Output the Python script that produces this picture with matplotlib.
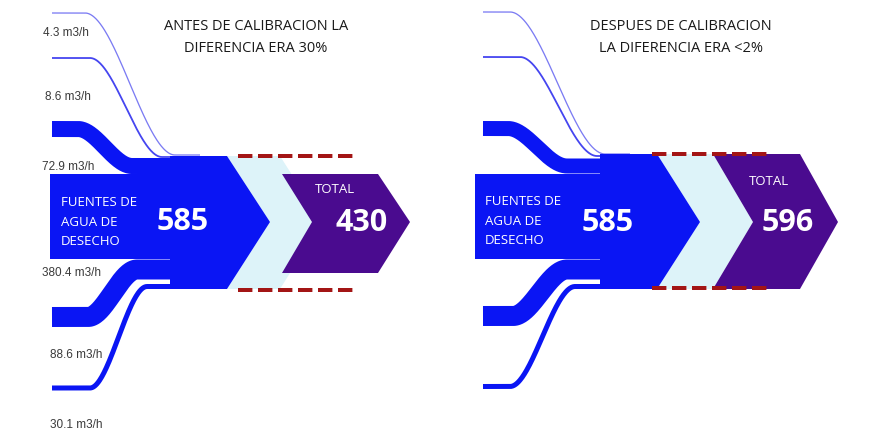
import matplotlib
matplotlib.use('Agg')
import matplotlib.pyplot as plt
import numpy as np
from matplotlib.patches import Polygon

# datos del diagrama
stream_values = [4.3, 8.6, 72.9, 380.4, 88.6, 30.1]
stream_labels = [f'{v} m3/h' for v in stream_values]
source_name = ['FUENTES DE', 'AGUA DE', 'DESECHO']
source_total = 585
measured_totals = [430, 596]
panel_titles = [['ANTES DE CALIBRACION LA', 'DIFERENCIA ERA 30%'],
                ['DESPUES DE CALIBRACION', 'LA DIFERENCIA ERA <2%']]

BLUE = '#0a15f4'
PURPLE = '#4a0b8f'
CYAN = '#ddf3f9'
RED = '#a31515'

W, H = 883, 439
fig = plt.figure(figsize=(W / 100, H / 100), dpi=100)
ax = fig.add_axes([0, 0, 1, 1])
ax.set_xlim(0, W)
ax.set_ylim(H, 0)
ax.axis('off')

PX = 72 / 100  # pixel -> points


def stream(x0, x1, y0, xa, xb, y1, width, color):
    # curva en S entre dos niveles
    xs = np.linspace(x0, x1, 200)
    t = np.clip((xs - xa) / (xb - xa), 0, 1)
    s = t * t * (3 - 2 * t)
    ys = y0 + (y1 - y0) * s
    ax.plot(xs, ys, color=color, lw=width * PX, solid_capstyle='butt', zorder=2)


# disposicion de cada panel
panels = [
    dict(x0=52, x1=200,
         streams=[(14, 85, 175, 156, 1.3, '#7b7bf3'),
                  (59, 90, 162, 158, 1.8, '#4545f0'),
                  (130, 78, 132, 167, 16, BLUE),
                  (318, 88, 137, 270.5, 20, BLUE),
                  (389, 90, 147, 287.5, 5, BLUE)],
         body=[(50, 175), (170, 175), (170, 157), (227, 157), (270, 223), (227, 290),
               (170, 290), (170, 260), (50, 260)],
         cyan=[(227, 157), (280, 157), (322, 223), (280, 290), (227, 290), (270, 223)],
         total=[(282, 175), (378, 175), (410, 223), (378, 274), (282, 274), (312, 223)],
         dash=(238, 357, 157, 291),
         title=(256, 26, 49),
         name=(61, [203, 223, 242]),
         num=(183, 222),
         total_lbl=(335, 190),
         total_num=(362, 223)),
    dict(x0=483, x1=630,
         streams=[(13, 510, 605, 155, 1.3, '#7b7bf3'),
                  (58, 520, 597, 157, 1.8, '#4545f0'),
                  (129.5, 508, 567, 167, 15, BLUE),
                  (317, 513, 567, 270.5, 20, BLUE),
                  (387.5, 510, 575, 287.5, 5, BLUE)],
         body=[(475, 175), (600, 175), (600, 155), (657, 155), (700, 223), (657, 290),
               (600, 290), (600, 260), (475, 260)],
         cyan=[(657, 155), (713, 155), (753, 223), (713, 290), (657, 290), (700, 223)],
         total=[(713, 155), (800, 155), (838, 223), (800, 290), (713, 290), (753, 223)],
         dash=(652, 770, 155, 289),
         title=(681, 26, 49),
         name=(485, [202, 222, 241]),
         num=(608, 223),
         total_lbl=(769, 182),
         total_num=(788, 223)),
]

for p, total, title in zip(panels, measured_totals, panel_titles):
    for y0, xa, xb, y1, w, c in p['streams']:
        stream(p['x0'], p['x1'], y0, xa, xb, y1, w, c)
    ax.add_patch(Polygon(p['cyan'], closed=True, fc=CYAN, ec='none', zorder=1))
    ax.add_patch(Polygon(p['body'], closed=True, fc=BLUE, ec='none', zorder=3))
    ax.add_patch(Polygon(p['total'], closed=True, fc=PURPLE, ec='none', zorder=3))
    xd0, xd1, yt, yb = p['dash']
    for yy in (yt, yb):
        ax.plot([xd0, xd1], [yy, yy], color=RED, lw=4 * PX, dashes=(3.6, 1.4), zorder=4)

    tx, ty1, ty2 = p['title']
    ax.text(tx, ty1, title[0], ha='center', va='center', fontsize=10.5,
            family='Open Sans', color='#1a1a1a')
    ax.text(tx, ty2, title[1], ha='center', va='center', fontsize=10.5,
            family='Open Sans', color='#1a1a1a')

    nx, nys = p['name']
    for line, ny in zip(source_name, nys):
        ax.text(nx, ny, line, ha='left', va='center', fontsize=9.5,
                family='Open Sans', color='white', zorder=5)
    ax.text(*p['num'], str(source_total), ha='center', va='center', fontsize=22,
            family='Open Sans', weight='bold', color='white', zorder=5)
    ax.text(*p['total_lbl'], 'TOTAL', ha='center', va='center', fontsize=9.5,
            family='Open Sans', color='white', zorder=5)
    ax.text(*p['total_num'], str(total), ha='center', va='center', fontsize=22,
            family='Open Sans', weight='bold', color='white', zorder=5)

# etiquetas de caudal (solo panel izquierdo)
label_pos = [(43, 33), (45, 97), (42, 167), (42, 273), (50, 355), (50, 425)]
for txt, (lx, ly) in zip(stream_labels, label_pos):
    ax.text(lx, ly, txt, ha='left', va='center', fontsize=8.5,
            family='Liberation Sans', color='#3a3a3a', zorder=6)

fig.savefig('out.png', dpi=100)
